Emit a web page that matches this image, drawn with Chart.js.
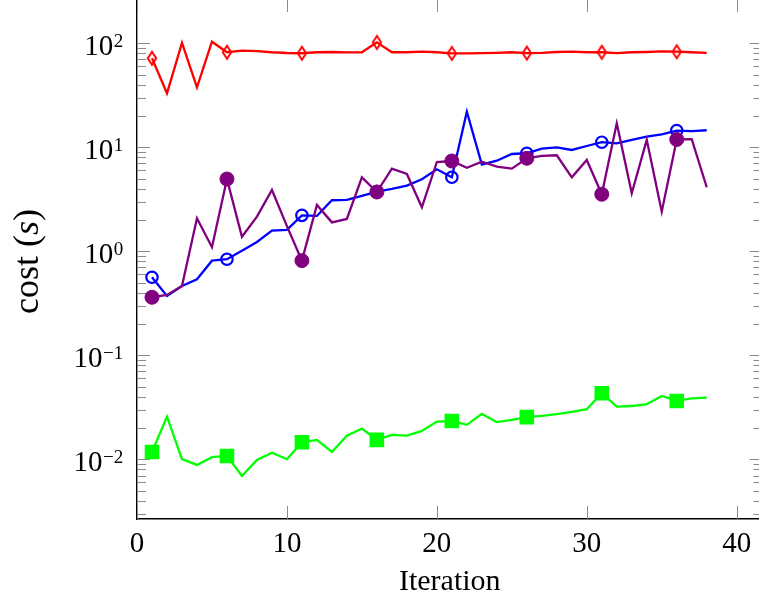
<!DOCTYPE html>
<html><head><meta charset="utf-8">
<script src="https://cdn.jsdelivr.net/npm/chart.js@4.4.1/dist/chart.umd.min.js"></script>
<style>
html,body{margin:0;padding:0;background:#fff;overflow:hidden;width:759px;height:600px}
#wrap{position:absolute;left:0;top:-2px;width:764px;height:602px}
</style>
</head><body>
<div id="wrap"><canvas id="c" width="764" height="602"></canvas></div>
<script>
const iterations = [1,2,3,4,5,6,7,8,9,10,11,12,13,14,15,16,17,18,19,20,21,22,23,24,25,26,27,28,29,30,31,32,33,34,35,36,37,38];
const costRed = [71.8,33.1,101,37.8,103.6,82,84.9,84,82,80.7,80.2,82,82.5,81.7,82,102,82,82,83,82,80,80,80.5,81,82,80.5,81,82.5,83,82,82,80.5,82,82.5,83.5,83,82,81];
const costBlue = [0.564,0.373,0.465,0.54,0.814,0.84,1.016,1.23,1.58,1.61,2.22,2.19,3.10,3.12,3.41,3.75,3.98,4.28,4.93,6.15,5.15,22.0,6.81,7.44,8.63,8.77,9.71,10.0,9.43,10.3,11.2,10.9,11.8,12.7,13.3,14.5,14.3,14.6];
const costPurple = [0.362,0.381,0.465,2.08,1.095,4.96,1.38,2.16,3.89,1.75,0.814,2.79,1.90,2.05,5.15,3.72,6.24,5.55,2.65,7.23,7.39,6.37,7.28,6.52,6.24,7.85,8.26,8.39,5.15,7.56,3.54,17.0,3.62,11.8,2.41,11.9,12.0,4.13];
const costGreen = [0.0118,0.0258,0.01005,0.00885,0.0105,0.0108,0.00694,0.0099,0.0116,0.01005,0.0146,0.0154,0.0118,0.0169,0.0198,0.0154,0.0172,0.0169,0.0188,0.0231,0.0234,0.0215,0.0274,0.0228,0.0240,0.0255,0.0262,0.0272,0.0286,0.0304,0.0433,0.0322,0.0326,0.0339,0.0408,0.0365,0.0387,0.0393];
const xTickValues = [0,10,20,30,40];
const yDecadeExponents = [-2,-1,0,1,2];
const xTitle = 'Iteration';
const yTitleParts = ['cost (', 's', ')'];

const SERIF = '"Liberation Serif", "Times New Roman", serif';

// tall open diamond marker (pgfplots "diamond")
const diamond = document.createElement('canvas');
diamond.width = 14; diamond.height = 18;
(function(){
  const g = diamond.getContext('2d');
  g.strokeStyle = '#ff0000'; g.lineWidth = 2;
  g.beginPath();
  g.moveTo(7, 2.5); g.lineTo(11.2, 9); g.lineTo(7, 15.5); g.lineTo(2.8, 9); g.closePath();
  g.stroke();
})();

const every5 = r => ctx => (ctx.dataIndex % 5 === 0 ? r : 0);

const pgfPlugin = {
  id: 'pgf',
  beforeDatasetsDraw(chart) {
    const {ctx, chartArea: a, scales: {x, y}} = chart;
    ctx.save();
    ctx.strokeStyle = '#8a8a8a';
    ctx.lineWidth = 1;
    ctx.beginPath();
    xTickValues.forEach(v => {
      const px = Math.round(x.getPixelForValue(v)) + 0.5;
      ctx.moveTo(px, a.bottom); ctx.lineTo(px, a.bottom - 13);
      ctx.moveTo(px, a.top); ctx.lineTo(px, a.top + 13);
    });
    for (let n = -3; n <= 2; n++) {
      for (let k = 1; k <= 9; k++) {
        if (n === 2 && k > 1) continue;
        const v = k * Math.pow(10, n);
        if (v < y.min || v > y.max) continue;
        const len = k === 1 ? 13 : 9;
        const py = Math.round(y.getPixelForValue(v)) + 0.5;
        ctx.moveTo(a.left, py); ctx.lineTo(a.left + len, py);
        ctx.moveTo(a.right, py); ctx.lineTo(a.right - len, py);
      }
    }
    ctx.stroke();
    ctx.restore();
  },
  afterDraw(chart) {
    const {ctx, chartArea: a, scales: {y}} = chart;
    ctx.save();
    ctx.fillStyle = '#000';
    ctx.textBaseline = 'alphabetic';
    ctx.textAlign = 'right';
    const right = a.left - 13.7;
    yDecadeExponents.forEach(n => {
      const py = y.getPixelForValue(Math.pow(10, n));
      const sup = n < 0 ? '\u2212' + (-n) : String(n);
      ctx.font = '19px ' + SERIF;
      ctx.fillText(sup, right, py + 3.6);
      const sw = ctx.measureText(sup).width;
      ctx.font = '29px ' + SERIF;
      ctx.fillText('10', right - sw - 0.5, py + 12);
    });
    // y axis title, rotated
    ctx.translate(38, (a.top + a.bottom) / 2 + 2.5);
    ctx.rotate(-Math.PI / 2);
    const fonts = ['36px ' + SERIF, 'italic 36px ' + SERIF, '36px ' + SERIF];
    let total = 0;
    const widths = yTitleParts.map((t, i) => { ctx.font = fonts[i]; const w = ctx.measureText(t).width; total += w; return w; });
    let cx = -total / 2;
    ctx.textAlign = 'left';
    yTitleParts.forEach((t, i) => { ctx.font = fonts[i]; ctx.fillText(t, cx, 0); cx += widths[i]; });
    ctx.restore();
  }
};

new Chart(document.getElementById('c'), {
  type: 'line',
  data: {
    labels: iterations,
    datasets: [
      { label: 'green', data: costGreen, borderColor: '#00ff00', backgroundColor: '#00ff00', borderWidth: 2.3,
        pointStyle: 'rect', pointRadius: every5(10.3), pointBorderWidth: 0, tension: 0 },
      { label: 'purple', data: costPurple, borderColor: '#800080', backgroundColor: '#800080', borderWidth: 2.3,
        pointStyle: 'circle', pointRadius: every5(7), pointBorderWidth: 1, tension: 0 },
      { label: 'blue', data: costBlue, borderColor: '#0000ff', backgroundColor: 'rgba(0,0,0,0)', borderWidth: 2.3,
        pointStyle: 'circle', pointRadius: every5(5.7), pointBorderWidth: 2.2, tension: 0 },
      { label: 'red', data: costRed, borderColor: '#ff0000', backgroundColor: 'rgba(0,0,0,0)', borderWidth: 2.3,
        pointStyle: diamond, pointRadius: every5(5), tension: 0 }
    ]
  },
  options: {
    responsive: false,
    animation: false,
    devicePixelRatio: 1,
    events: [],
    layout: { autoPadding: false, padding: { top: 1, right: 1.5, bottom: 0, left: 0 } },
    plugins: { legend: { display: false }, tooltip: { enabled: false } },
    scales: {
      x: {
        type: 'linear', min: 0, max: 41.72,
        grid: { drawOnChartArea: false, drawTicks: false },
        border: { display: true, color: '#000', width: 1.4 },
        ticks: { stepSize: 10, includeBounds: false, autoSkip: false, maxRotation: 0, padding: 8,
                 color: '#000', font: { family: SERIF, size: 29 } },
        title: { display: true, text: xTitle, color: '#000', padding: { top: 0, bottom: 0 },
                 font: { family: SERIF, size: 30 } },
        afterFit: s => { s.height = 81; }
      },
      y: {
        type: 'logarithmic', min: 0.002674, max: 266.6,
        grid: { drawOnChartArea: false, drawTicks: false },
        border: { display: true, color: '#000', width: 1.4 },
        ticks: { display: false },
        afterFit: s => { s.width = 137; }
      }
    }
  },
  plugins: [pgfPlugin]
});
</script>
</body></html>
